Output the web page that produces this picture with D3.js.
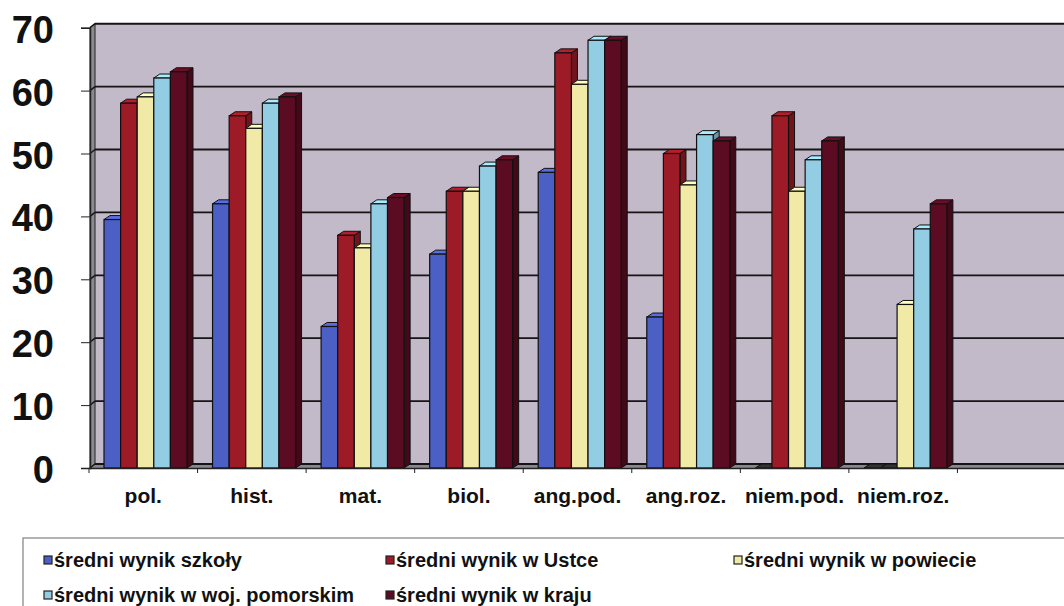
<!DOCTYPE html>
<html>
<head>
<meta charset="utf-8">
<script src="https://cdn.jsdelivr.net/npm/d3@7"></script>
<style>
  body { margin: 0; background: #fff; }
  text { font-family: Arial, "Liberation Sans", sans-serif; font-weight: bold; }
</style>
</head>
<body>
<svg id="chart" width="1064" height="606"></svg>
<script>
// dane
const categories = ["pol.", "hist.", "mat.", "biol.", "ang.pod.", "ang.roz.", "niem.pod.", "niem.roz.", ""];
const seriesNames = [
  "średni wynik szkoły",
  "średni wynik w Ustce",
  "średni wynik w powiecie",
  "średni wynik w woj. pomorskim",
  "średni wynik w kraju"
];
const szkola   = [39.5, 42, 22.5, 34, 47, 24, 0, 0, null];
const ustka    = [58, 56, 37, 44, 66, 50, 56, 0, null];
const powiat   = [59, 54, 35, 44, 61, 45, 44, 26, null];
const woj      = [62, 58, 42, 48, 68, 53, 49, 38, null];
const kraj     = [63, 59, 43, 49, 68, 52, 52, 42, null];
const yTicks   = [0, 10, 20, 30, 40, 50, 60, 70];

const series = [szkola, ustka, powiat, woj, kraj];
const colors = ["#4b5fc4", "#9c1b26", "#f1e9a6", "#93cde4", "#5b0c22"];

const svg = d3.select("#chart");

const x = d3.scaleBand().domain(categories).range([89, 1066]);
const y = d3.scaleLinear().domain([0, 70]).range([468, 27.7]);

// przesunięcie 3D
const wdx = 5, wdy = -4;   // tylna ściana
const bdx = 6, bdy = -4;   // głębokość słupka
const barW = 16.6, barOff = 15;

// tylna ściana
svg.append("rect")
  .attr("x", x.range()[0] + wdx).attr("y", y(70) + wdy)
  .attr("width", 1064 - x.range()[0] - wdx).attr("height", y(0) - y(70))
  .attr("fill", "#c2b9c9");

// lewa ściana
svg.append("path")
  .attr("d", `M90,${y(70)} L${90 + wdx},${y(70) + wdy} L${90 + wdx},${y(0) + wdy} L90,${y(0)} Z`)
  .attr("fill", "#8d8a90").attr("stroke", "#222").attr("stroke-width", 1);

// podłoga
svg.append("path")
  .attr("d", `M90,${y(0)} L${90 + wdx},${y(0) + wdy} L1064,${y(0) + wdy} L1064,${y(0)} Z`)
  .attr("fill", "#8a8590");

// linie siatki
const grid = svg.append("g");
yTicks.forEach(v => {
  grid.append("line")
    .attr("x1", 90 + wdx).attr("x2", 1064)
    .attr("y1", y(v) + wdy).attr("y2", y(v) + wdy)
    .attr("stroke", "#151515").attr("stroke-width", v === 70 ? 2 : 1.8);
  grid.append("line")
    .attr("x1", 90).attr("x2", 90 + wdx)
    .attr("y1", y(v)).attr("y2", y(v) + wdy)
    .attr("stroke", "#151515").attr("stroke-width", 1.5);
});

// oś Y
svg.append("g")
  .attr("transform", "translate(90,0)")
  .call(d3.axisLeft(y).tickValues(yTicks).tickSize(9).tickFormat(""))
  .call(g => g.select(".domain").attr("stroke", "#222").attr("stroke-width", 1.5))
  .call(g => g.selectAll(".tick line").attr("stroke", "#222"));

svg.append("g").selectAll("text")
  .data(yTicks).join("text")
  .attr("x", 54).attr("y", d => y(d) + 15)
  .attr("text-anchor", "end")
  .attr("font-size", 38)
  .attr("fill", "#111")
  .text(d => d);

// słupki
const bars = svg.append("g");
const shade = (c, k) => d3.color(c).darker(k).formatHex();

categories.forEach((cat, ci) => {
  series.forEach((vals, si) => {
    const v = vals[ci];
    if (v === null || v === undefined) return;
    const x0 = x(cat) + barOff + si * barW;
    const x1 = x0 + barW;
    const yt = y(v), yb = y(0);
    const col = colors[si];
    // bok
    bars.append("path")
      .attr("d", `M${x1},${yt} L${x1 + bdx},${yt + bdy} L${x1 + bdx},${yb + bdy} L${x1},${yb} Z`)
      .attr("fill", shade(col, 0.9)).attr("stroke", "#111").attr("stroke-width", 1);
    // góra
    bars.append("path")
      .attr("d", `M${x0},${yt} L${x0 + bdx},${yt + bdy} L${x1 + bdx},${yt + bdy} L${x1},${yt} Z`)
      .attr("fill", v === 0 ? "#333" : d3.color(col).brighter(0.4).formatHex())
      .attr("stroke", "#111").attr("stroke-width", 1);
    // przód
    if (v > 0) {
      bars.append("rect")
        .attr("x", x0).attr("y", yt)
        .attr("width", barW).attr("height", yb - yt)
        .attr("fill", col).attr("stroke", "#111").attr("stroke-width", 1.2);
    }
  });
});

// oś X
svg.append("g")
  .attr("transform", `translate(0,${y(0)})`)
  .call(d3.axisBottom(x).tickSize(0).tickFormat(""))
  .call(g => g.select(".domain").attr("stroke", "#222").attr("stroke-width", 1.5));

svg.append("g").selectAll("line")
  .data(categories).join("line")
  .attr("x1", d => x(d)).attr("x2", d => x(d))
  .attr("y1", y(0)).attr("y2", y(0) + 5)
  .attr("stroke", "#222");

svg.append("g").selectAll("text")
  .data(categories).join("text")
  .attr("x", d => x(d) + x.bandwidth() / 2)
  .attr("y", 503)
  .attr("text-anchor", "middle")
  .attr("font-size", 21)
  .attr("fill", "#111")
  .text(d => d);

// legenda
const legend = svg.append("g");
legend.append("rect")
  .attr("x", 23).attr("y", 538).attr("width", 1060).attr("height", 90)
  .attr("fill", "#fff").attr("stroke", "#9a9a9a").attr("stroke-width", 1.5);

const legendPos = [[44, 560], [386, 560], [734, 560], [44, 595], [386, 595]];
seriesNames.forEach((name, i) => {
  const [lx, ly] = legendPos[i];
  legend.append("rect")
    .attr("x", lx).attr("y", ly - 4).attr("width", 8).attr("height", 8)
    .attr("fill", colors[i]).attr("stroke", "#222").attr("stroke-width", 1.2);
  legend.append("text")
    .attr("x", lx + 10).attr("y", ly + 7)
    .attr("font-size", 20)
    .attr("fill", "#111")
    .text(name);
});
</script>
</body>
</html>
